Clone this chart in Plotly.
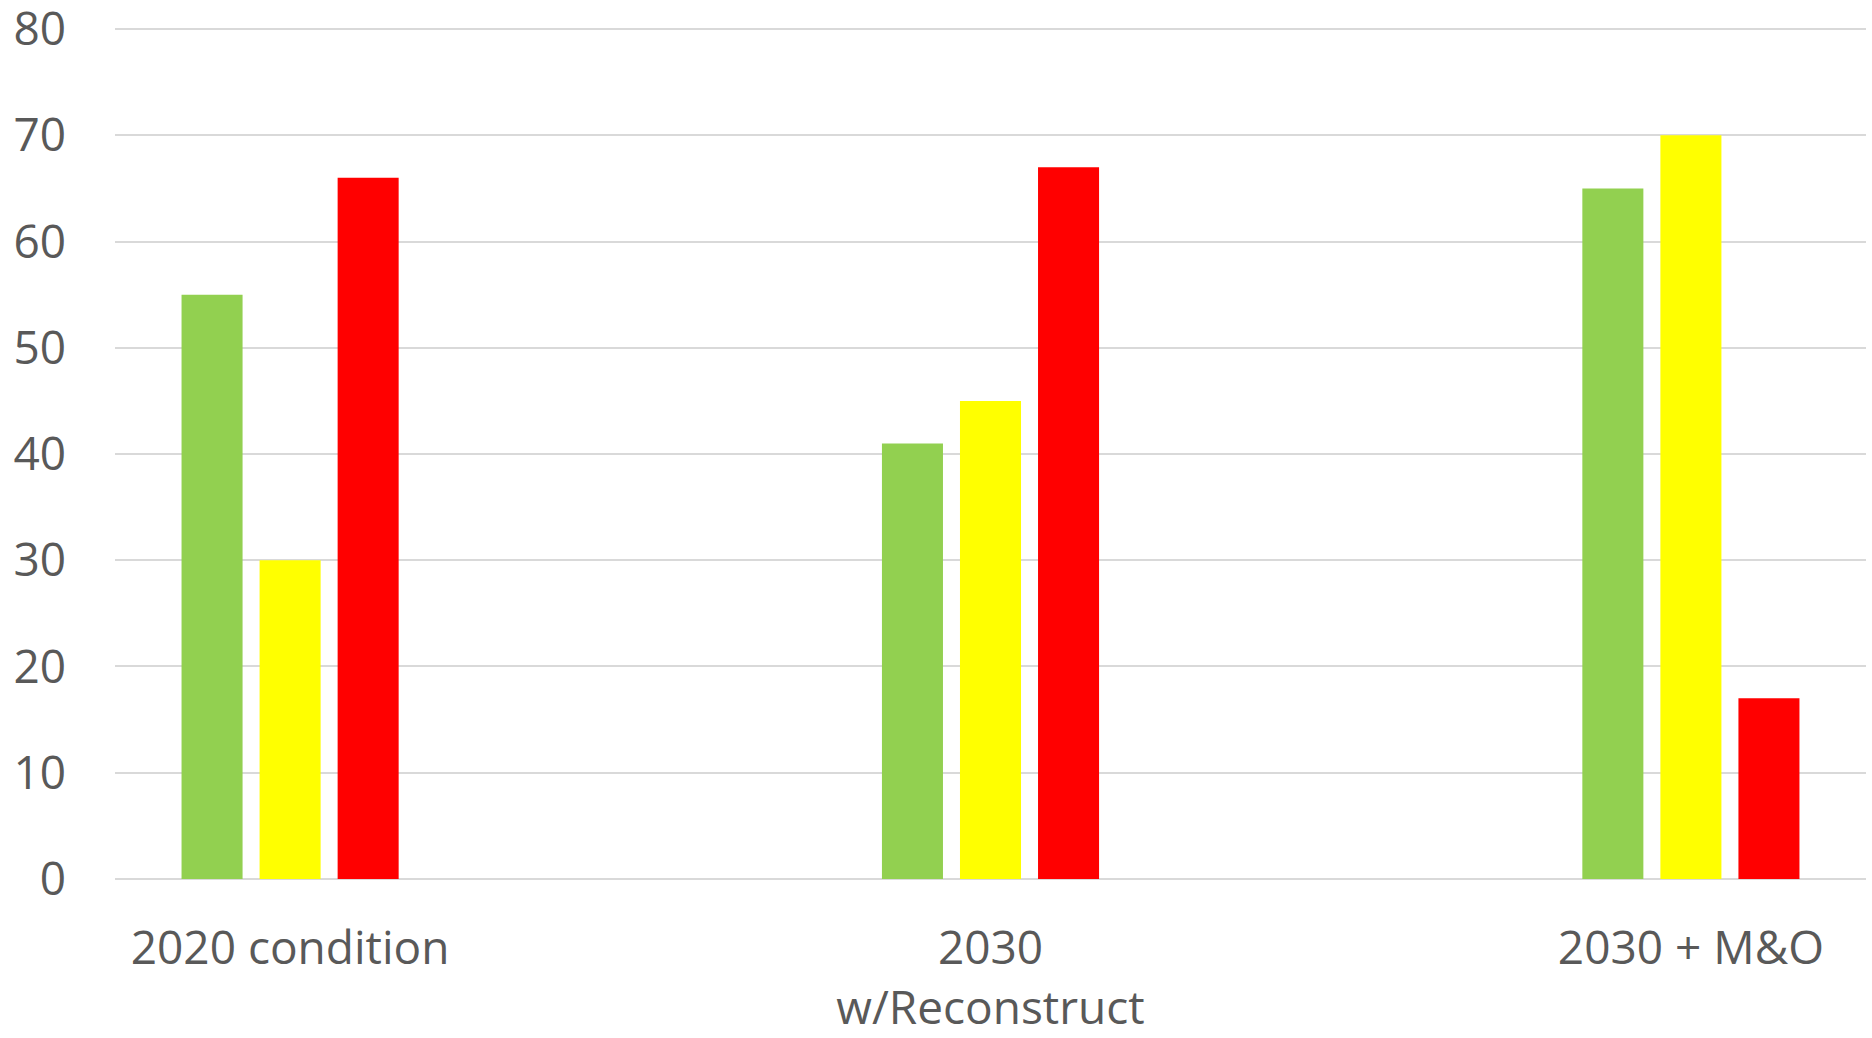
import plotly.graph_objects as go

# Scenario categories and the three condition ratings
categories = ["2020 condition", "2030<br>w/Reconstruct", "2030 + M&O"]
good = [55, 41, 65]
fair = [30, 45, 70]
poor = [66, 67, 17]

y_ticks = [0, 10, 20, 30, 40, 50, 60, 70, 80]

TEXT = "#595959"
GRID = "#D9D9D9"
FONT = "Open Sans"

fig = go.Figure()
for name, vals, color in [
    ("Good", good, "#92D050"),
    ("Fair", fair, "#FFFF00"),
    ("Poor", poor, "#FF0000"),
]:
    fig.add_trace(go.Bar(x=categories, y=vals, name=name,
                         marker=dict(color=color, line=dict(width=0))))

fig.update_layout(
    width=1872, height=1038,
    margin=dict(l=115, r=6, t=27, b=157),
    paper_bgcolor="white", plot_bgcolor="white",
    barmode="group", bargap=0.6657, bargroupgap=0.218,
    showlegend=False,
    font=dict(family=FONT, size=46, color=TEXT),
)
fig.update_xaxes(
    type="category", range=[-0.25, 2.25], automargin=False,
    showgrid=False, showline=False, zeroline=False,
    ticks="", ticklabelstandoff=36,
    tickfont=dict(family=FONT, size=46, color=TEXT),
)
fig.update_yaxes(
    range=[-0.2, 80.2], tickvals=y_ticks, automargin=False,
    showgrid=True, gridcolor=GRID, gridwidth=2,
    zeroline=False, showline=False, ticks="",
    ticklabelstandoff=48, ticklabeloverflow="allow",
    tickfont=dict(family=FONT, size=46, color=TEXT),
)

fig.write_html("out.html")
